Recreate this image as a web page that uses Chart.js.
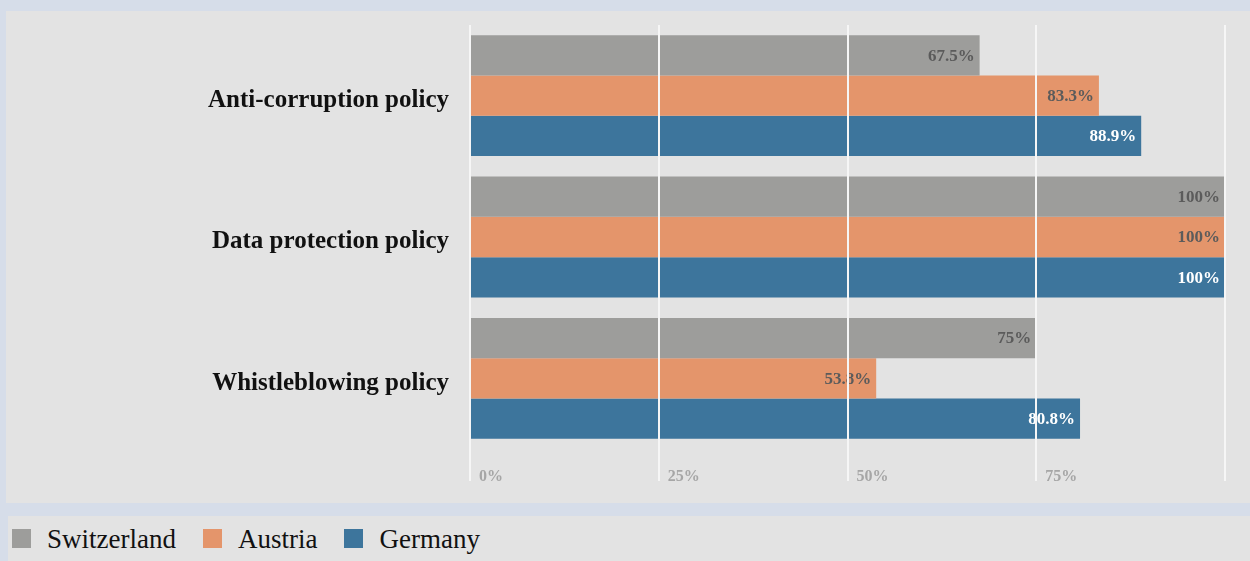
<!DOCTYPE html>
<html>
<head>
<meta charset="utf-8">
<script src="https://cdn.jsdelivr.net/npm/chart.js@4.4.1/dist/chart.umd.min.js"></script>
<style>
    html, body {
        margin: 0;
        padding: 0;
        width: 1250px;
        height: 561px;
        overflow: hidden;
        background: #d6dde9;
        font-family: "Liberation Serif", serif;
    }
    .panel {
        position: absolute;
        background: #e3e3e3;
    }
    #chart-panel {
        left: 6px;
        top: 11px;
        width: 1244px;
        height: 492px;
    }
    #legend-panel {
        left: 8px;
        top: 516px;
        width: 1242px;
        height: 45px;
    }
    #legend {
        display: flex;
        align-items: center;
        height: 100%;
        padding-left: 4px;
        margin-top: 1px;
    }
    .legend-item {
        display: flex;
        align-items: center;
        margin-right: 27px;
        font-size: 27px;
        color: #111;
    }
    .legend-box {
        width: 19px;
        height: 19px;
        margin-right: 16px;
        margin-top: -3px;
    }
</style>
</head>
<body>
<div class="panel" id="chart-panel"><canvas id="policyChart"></canvas></div>
<div class="panel" id="legend-panel"><div id="legend"></div></div>

<script>
const categories = ['Anti-corruption policy', 'Data protection policy', 'Whistleblowing policy'];
const countries = ['Switzerland', 'Austria', 'Germany'];
const switzerland = [67.5, 100, 75];
const austria = [83.3, 100, 53.8];
const germany = [88.9, 100, 80.8];
const xTicks = [0, 25, 50, 75, 100];

const barColors = ['#9d9d9b', '#e4956b', '#3d759c'];
const valueColors = ['#5b5b5b', '#5b5b5b', '#ffffff'];

// value text at the end of each bar
const barValueLabels = {
    id: 'barValueLabels',
    afterDatasetsDraw(chart) {
        const ctx = chart.ctx;
        ctx.save();
        ctx.font = 'bold 17px "Liberation Serif", serif';
        ctx.textAlign = 'right';
        ctx.textBaseline = 'middle';
        chart.data.datasets.forEach((ds, di) => {
            const meta = chart.getDatasetMeta(di);
            ctx.fillStyle = valueColors[di];
            meta.data.forEach((bar, i) => {
                ctx.fillText(ds.data[i] + '%', bar.x - 5, bar.y + 1);
            });
        });
        ctx.restore();
    }
};

const seriesValues = [switzerland, austria, germany];

const chart = new Chart(document.getElementById('policyChart'), {
    type: 'bar',
    data: {
        labels: categories,
        datasets: countries.map((name, i) => ({
            label: name,
            data: seriesValues[i],
            backgroundColor: barColors[i],
            borderWidth: 0,
            barPercentage: 1,
            categoryPercentage: 0.855
        }))
    },
    options: {
        indexAxis: 'y',
        responsive: true,
        maintainAspectRatio: false,
        animation: false,
        layout: { padding: { top: 14, right: 25, bottom: 0, left: 0 } },
        plugins: {
            legend: { display: false },
            tooltip: { enabled: false }
        },
        scales: {
            x: {
                min: 0,
                max: 100,
                afterBuildTicks: (scale) => {
                    scale.ticks = xTicks.map(v => ({ value: v }));
                },
                afterFit: (scale) => {
                    scale.height = 54;
                    scale.paddingLeft = 0;
                    scale.paddingRight = 0;
                },
                border: { display: false },
                grid: {
                    z: 1,
                    color: '#f6f6f6',
                    lineWidth: 2,
                    tickLength: 32
                },
                ticks: {
                    autoSkip: false,
                    maxRotation: 0,
                    align: 'start',
                    labelOffset: 9,
                    padding: -14,
                    color: '#a6a6a6',
                    font: { family: '"Liberation Serif", serif', size: 16, weight: 'bold' },
                    callback: (v) => (v === 100 ? '' : v + '%')
                }
            },
            y: {
                afterFit: (scale) => {
                    scale.width = 464;
                    scale.paddingTop = 0;
                    scale.paddingBottom = 0;
                },
                border: { display: false },
                grid: { display: false, drawTicks: false },
                ticks: {
                    padding: 21,
                    labelOffset: 5,
                    color: '#111111',
                    font: { family: '"Liberation Serif", serif', size: 25, weight: 'bold' }
                }
            }
        }
    },
    plugins: [barValueLabels]
});

// legend in its own panel below the chart
const legendEl = document.getElementById('legend');
chart.data.datasets.forEach((ds) => {
    const item = document.createElement('div');
    item.classList.add('legend-item');
    const box = document.createElement('span');
    box.classList.add('legend-box');
    box.style.backgroundColor = ds.backgroundColor;
    const text = document.createElement('span');
    text.textContent = ds.label;
    item.appendChild(box);
    item.appendChild(text);
    legendEl.appendChild(item);
});
</script>
</body>
</html>
